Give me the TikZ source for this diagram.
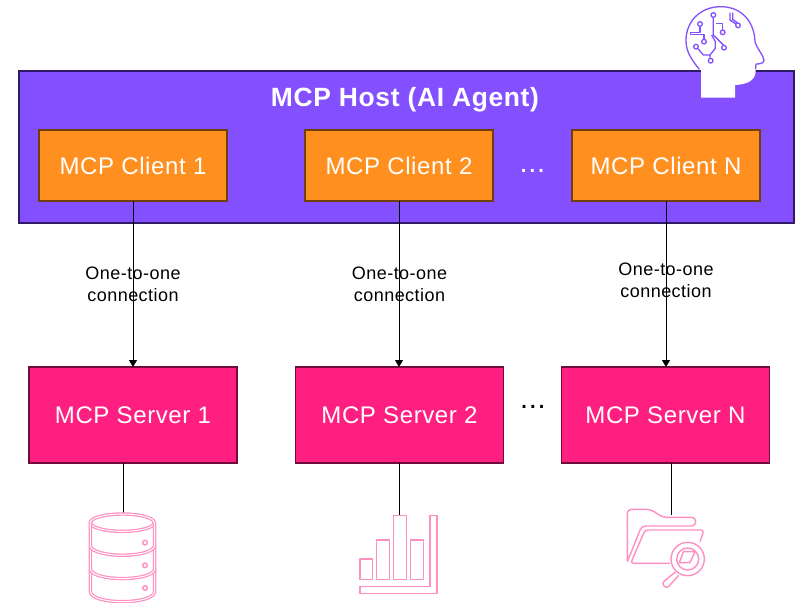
\documentclass[tikz,border=0pt]{standalone}
\usepackage{fontspec}
\setmainfont[LetterSpace=2.5]{Liberation Sans}
\usetikzlibrary{positioning,arrows.meta}
\definecolor{hostfill}{HTML}{8450FF}
\definecolor{hostline}{HTML}{2E1A66}
\definecolor{clientfill}{HTML}{FF9020}
\definecolor{clientline}{HTML}{6E4010}
\definecolor{serverfill}{HTML}{FF1F80}
\definecolor{serverline}{HTML}{700C3C}
\definecolor{iconpink}{HTML}{FF8FC0}
\tikzset{
  clientbox/.style={draw=clientline, fill=clientfill, line width=1.4pt, outer sep=0pt, minimum width=188pt, minimum height=71pt, text=white, font=\fontsize{24}{26}\selectfont},
  serverbox/.style={draw=serverline, fill=serverfill, line width=1.4pt, outer sep=0pt, minimum width=208pt, minimum height=96pt, text=white, font=\fontsize{24}{26}\selectfont},
  linklabel/.style={align=center, font=\fontsize{18}{22}\selectfont},
  dotslabel/.style={anchor=base, inner sep=0pt, font=\fontsize{29}{30}\selectfont},
  iconline/.style={draw=iconpink, line width=1.4pt, line join=round},
  icondouble/.style={draw=iconpink, line width=1.2pt, double=white, double distance=1pt},
  trace/.style={draw=hostfill, line width=1.3pt, line join=round},
}
\begin{document}
\begin{tikzpicture}[x=1pt, y=-1pt]
  \useasboundingbox (0,0) rectangle (807,603);
  \node (Host) [draw=hostline, fill=hostfill, line width=1.4pt, outer sep=0pt, minimum width=775pt, minimum height=152pt] at (406.5,147) {};
  \node (HostName) [text=white, font=\bfseries\fontsize{26.4}{28}\selectfont] at (405,100) {MCP Host (AI Agent)};

  \node (C1) [clientbox] at (133,165.5) {\raisebox{-1pt}{MCP Client 1}};
  \node (C2) [clientbox, right=78pt of C1] {\raisebox{-1pt}{MCP Client 2}};
  \node (CN) [clientbox, right=79pt of C2] {\raisebox{-1pt}{MCP Client N}};
  \node (CDots) [dotslabel, text=white] at (532.5,172) {...};

  \node (S1) [serverbox] at (133,415) {\raisebox{-2pt}{MCP Server 1}};
  \node (S2) [serverbox, right=58.5pt of S1] {\raisebox{-2pt}{MCP Server 2}};
  \node (SN) [serverbox, right=58pt of S2] {\raisebox{-2pt}{MCP Server N}};
  \node (SDots) [dotslabel] at (533,408) {...};

  \coordinate (Db) at (123.5,514);
  \coordinate (Chart) at (399.5,515);
  \coordinate (Files) at (671.5,515);

  \path[-{Triangle[length=7pt,width=8pt]}, line width=0.8pt]
    (C1) edge (S1)
    (C2) edge (C2 |- S2.north)
    (CN) edge (CN |- SN.north);
  \draw[line width=0.8pt] (S1.south -| Db) -- (Db);
  \draw[line width=0.8pt] (S2.south -| Chart) -- (Chart);
  \draw[line width=0.8pt] (SN.south -| Files) -- (Files);

  \node (L1) [linklabel] at (133,284) {One-to-one\\connection};
  \node (L2) [linklabel] at (399.5,284) {One-to-one\\connection};
  \node (LN) [linklabel] at (666,280) {One-to-one\\connection};

  % head
  \begin{scope}[shift={(660,0)}, scale=1/3]
    \fill[white] (123,210) .. controls (95,180) and (78,155) .. (78,122)
      .. controls (78,60) and (125,20) .. (182,20)
      .. controls (245,20) and (283,65) .. (285,125)
      .. controls (290,145) and (310,165) .. (312,180)
      .. controls (312,190) and (300,192) .. (288,192) -- (287,215)
      .. controls (285,240) and (265,253) .. (225,255) -- (225,293) -- (123,293) -- cycle;
    \draw[trace] (118,208) .. controls (95,180) and (78,155) .. (78,122)
      .. controls (78,60) and (125,20) .. (182,20)
      .. controls (245,20) and (283,65) .. (285,125)
      .. controls (290,145) and (310,165) .. (312,180)
      .. controls (312,190) and (300,192) .. (288,192) -- (287,208);
    \draw[trace] (160,52) -- (160,105) -- (190,135);
    \draw[trace] (168,70) -- (188,70) -- (188,90);
    \draw[trace] (120,80) -- (120,98) -- (92,98) -- (92,103) -- (132,103) -- (132,118);
    \draw[trace] (114,146) -- (130,165) -- (150,165) -- (150,175);
    \draw[trace] (150,165) -- (166,145) -- (166,125) -- (155,105);
    \draw[trace] (210,38) -- (210,60) -- (228,72) (218,38) -- (218,58) -- (232,68);
    \draw[trace] (160,45) circle (7) (120,72) circle (7) (188,97) circle (7) (132,125) circle (7)
      (108,140) circle (7) (152,182) circle (7) (192,143) circle (7) (234,76) circle (7);
  \end{scope}

  % database
  \begin{scope}[shift={(70,490)}, scale=1/3]
    \draw[icondouble] (157,98) ellipse (96 and 26);
    \draw[icondouble] (61,100) -- (61,305) .. controls (65,345) and (250,345) .. (254,305) -- (254,100);
    \draw[icondouble] (61,168) .. controls (70,205) and (245,205) .. (254,168);
    \draw[icondouble] (61,238) .. controls (70,275) and (245,275) .. (254,238);
    \draw[iconline] (225,158) circle (7) (225,226) circle (7) (225,294) circle (7);
  \end{scope}

  % chart
  \begin{scope}[shift={(340,490)}, scale=1/3]
    \draw[iconline] (60,207) rectangle (97,268);
    \draw[iconline] (110,150) rectangle (148,268);
    \draw[iconline] (161,77) rectangle (199,268);
    \draw[iconline] (212,150) rectangle (250,268);
    \draw[iconline] (60,290) -- (270,290) -- (270,77) -- (291,77) -- (291,310) -- (60,310) -- cycle;
  \end{scope}

  % folder
  \begin{scope}[shift={(610,490)}, scale=1/3]
    \draw[iconline, rounded corners=4pt] (52,215) -- (52,58) -- (122,58) -- (158,82) -- (257,82) -- (257,108) -- (95,108) -- (52,215);
    \draw[iconline, rounded corners=3pt] (180,220) -- (62,220) -- (105,120) -- (282,120) -- (270,155);
    \draw[iconline] (233,207) circle (50) (233,207) circle (33);
    \draw[iconline] (220,185) -- (255,185) -- (240,218) -- (208,218) -- cycle;
    \draw[iconline, rounded corners=3pt] (196,246) -- (155,280) -- (170,296) -- (206,256);
  \end{scope}
\end{tikzpicture}
\end{document}
